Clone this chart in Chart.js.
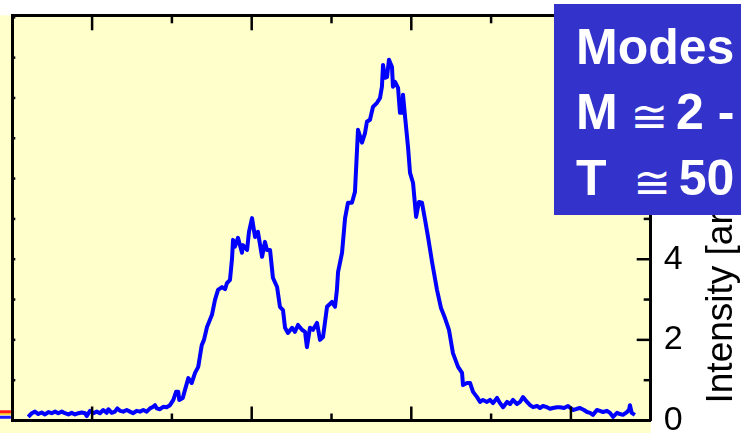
<!DOCTYPE html>
<html>
<head>
<meta charset="utf-8">
<script src="https://cdn.jsdelivr.net/npm/chart.js@4/dist/chart.umd.min.js"></script>
<style>
  html, body { margin: 0; padding: 0; background: #fff; overflow: hidden; width: 741px; height: 433px; }
  #wrap { position: relative; width: 741px; height: 433px; overflow: hidden; }
  #c { position: absolute; left: 0; top: 0; }
  #modes {
    position: absolute; left: 554px; top: 4px; width: 187px; height: 211px;
    box-sizing: border-box; padding: 11px 0 0 22px;
    background: #3333cc; color: #fff; white-space: pre;
    font: bold 50px "Liberation Sans", Arial, sans-serif; line-height: 65px;
  }
  #modes .approx {
    display: inline-block; width: 30.6px; overflow: visible;
    font: normal 45px "DejaVu Sans", sans-serif; line-height: 65px;
    position: relative; top: 3px; left: -1px;
  }
</style>
</head>
<body>
<div id="wrap">
  <canvas id="c" width="741" height="433"></canvas>
  <div id="modes">Modes
M <span class="approx">≅</span> 2 -
T  <span class="approx">≅</span> 50</div>
</div>
<script>
// Measured spectrum: position (x) and intensity [arb. units]
const positions = [
  -4.00, -3.78, -3.58, -3.37, -3.16, -2.95, -2.74, -2.53, -2.32, -2.12,
  -1.90, -1.70, -1.49, -1.28, -1.07, -0.86, -0.65, -0.44, -0.34, -0.13,
   0.08,  0.29,  0.49,  0.70,  0.91,  1.02,  1.23,  1.43,  1.58,  1.75,
   1.95,  2.17,  2.37,  2.58,  2.79,  3.00,  3.21,  3.42,  3.63,  3.83,
   3.94,  4.05,  4.25,  4.46,  4.67,  4.88,  5.09,  5.26,  5.40,  5.46,
   5.68,  5.82,  6.03,  6.24,  6.45,  6.65,  6.76,  6.87,  7.01,  7.20,
   7.51,  7.70,  7.89,  8.14,  8.33,  8.45,  8.64,  8.77,  8.83,  8.95,
   9.14,  9.39,  9.45,  9.71,  9.83, 10.02, 10.21, 10.39, 10.65, 10.83,
  10.96, 11.15, 11.33, 11.59, 11.77, 11.96, 12.09, 12.27, 12.53, 12.71,
  12.90, 13.15, 13.34, 13.46, 13.65, 13.84, 14.09, 14.28, 14.47, 14.72,
  15.03, 15.22, 15.34, 15.41, 15.66, 15.85, 16.03, 16.28, 16.47, 16.66,
  16.91, 17.10, 17.22, 17.41, 17.60, 17.85, 18.04, 18.16, 18.23, 18.35,
  18.48, 18.60, 18.79, 18.85, 18.98, 19.17, 19.29, 19.42, 19.48, 19.61,
  19.80, 19.92, 20.11, 20.30, 20.48, 20.67, 20.86, 21.05, 21.30, 21.61,
  21.86, 22.11, 22.36, 22.61, 22.93, 23.18, 23.24, 23.49, 23.68, 23.87,
  24.12, 24.31, 24.49, 24.74, 24.93, 25.12, 25.37, 25.56, 25.75, 26.00,
  26.19, 26.37, 26.62, 26.81, 27.00, 27.25, 27.44, 27.63, 27.88, 28.06,
  28.25, 28.50, 28.69, 28.88, 29.13, 29.32, 29.57, 29.82, 30.13, 30.38,
  30.57, 30.82, 31.01, 31.20, 31.38, 31.63, 31.82, 32.01, 32.26, 32.45,
  32.64, 32.89, 33.08, 33.26, 33.51, 33.64, 33.70, 33.81, 34.01
];
const intensity = [
  0.09, 0.18, 0.22, 0.16, 0.20, 0.15, 0.21, 0.18, 0.22, 0.18,
  0.22, 0.18, 0.15, 0.19, 0.15, 0.18, 0.20, 0.18, 0.11, 0.24,
  0.18, 0.22, 0.18, 0.26, 0.19, 0.28, 0.19, 0.22, 0.30, 0.24,
  0.22, 0.26, 0.22, 0.18, 0.24, 0.22, 0.26, 0.22, 0.30, 0.34,
  0.38, 0.30, 0.28, 0.34, 0.33, 0.38, 0.51, 0.71, 0.71, 0.51,
  0.56, 0.76, 1.05, 0.93, 1.18, 1.33, 1.60, 1.87, 2.00, 2.32,
  2.62, 2.99, 3.24, 3.31, 3.26, 3.41, 3.49, 4.03, 4.48, 4.31,
  4.53, 4.16, 4.35, 4.23, 4.68, 5.02, 4.55, 4.68, 4.06, 4.43,
  4.23, 4.23, 3.54, 3.31, 2.82, 2.74, 2.30, 2.17, 2.30, 2.20,
  2.37, 2.25, 2.20, 1.82, 2.30, 2.25, 2.42, 2.00, 2.07, 2.82,
  2.94, 2.82, 3.24, 3.68, 4.16, 5.02, 5.40, 5.40, 5.67, 7.21,
  6.89, 7.13, 7.41, 7.46, 7.78, 7.88, 8.00, 8.28, 8.82, 8.50,
  8.52, 8.95, 8.77, 8.28, 8.40, 8.25, 7.63, 7.63, 8.08, 7.53,
  6.76, 6.14, 5.89, 5.05, 5.42, 5.40, 4.98, 4.55, 3.93, 3.24,
  2.79, 2.54, 2.25, 1.67, 1.33, 1.18, 0.88, 0.93, 0.93, 0.71,
  0.58, 0.46, 0.51, 0.46, 0.51, 0.43, 0.56, 0.43, 0.33, 0.46,
  0.41, 0.51, 0.41, 0.46, 0.58, 0.46, 0.38, 0.33, 0.36, 0.31,
  0.36, 0.33, 0.29, 0.31, 0.33, 0.33, 0.31, 0.36, 0.26, 0.29,
  0.31, 0.26, 0.21, 0.19, 0.14, 0.26, 0.24, 0.21, 0.24, 0.19,
  0.09, 0.19, 0.16, 0.14, 0.21, 0.26, 0.38, 0.19, 0.14
];

// Ends of the traces of the neighbouring panel, just left of the frame
const neighbourX = [-5.77, -5.09];
const neighbourRed = [0.22, 0.22];
const neighbourGold = [0.16, 0.16];
const neighbourBlue = [0.08, 0.08];

// Axis ranges and labelled ticks
const xRange = [-5, 35];
const yRange = [0, 10.05];
const yTickLabels = [0, 2, 4, 6, 8, 10];
const yTitle = 'Intensity [arb. units]';

const toPoints = (xs, ys) => xs.map((x, i) => ({ x, y: ys[i] }));
const FONT = '"Liberation Sans", Arial, sans-serif';

const panelPlugin = {
  id: 'panel',
  beforeDraw(chart) {
    const { ctx, chartArea: a, width, height } = chart;
    ctx.save();
    ctx.fillStyle = '#ffffff';
    ctx.fillRect(0, 0, width, height);
    ctx.fillStyle = '#ffffcc';
    ctx.fillRect(0, a.top, a.right, height - a.top);
    ctx.restore();
  },
  afterDraw(chart) {
    const { ctx, chartArea: a, width } = chart;
    ctx.save();
    ctx.strokeStyle = '#000';
    ctx.lineWidth = 2.5;
    // inward-pointing tick marks on all four sides
    const inward = (scale, majorLen, minorLen, isMajor) => {
      scale.ticks.forEach(t => {
        if (t.value <= scale.min || t.value >= scale.max) return;
        const len = isMajor(t.value) ? majorLen : minorLen;
        const p = scale.getPixelForValue(t.value);
        ctx.beginPath();
        if (scale.position === 'bottom') { ctx.moveTo(p, a.bottom); ctx.lineTo(p, a.bottom - len); }
        else if (scale.position === 'top') { ctx.moveTo(p, a.top); ctx.lineTo(p, a.top + len); }
        else if (scale.position === 'right') { ctx.moveTo(a.right, p); ctx.lineTo(a.right - len, p); }
        else { ctx.moveTo(a.left, p); ctx.lineTo(a.left + len, p); }
        ctx.stroke();
      });
    };
    const xMajor = v => v % 10 === 0;
    const yMajor = v => yTickLabels.includes(v);
    inward(chart.scales.x, 14, 7, xMajor);
    inward(chart.scales.xTop, 15, 8, xMajor);
    inward(chart.scales.y, 14, 7, yMajor);
    inward(chart.scales.yLeft, 3, 3, () => true);

    // rotated axis title, reading bottom to top
    ctx.fillStyle = '#000';
    ctx.font = '37px ' + FONT;
    ctx.textAlign = 'left';
    ctx.textBaseline = 'alphabetic';
    ctx.translate(width - 9.3, a.bottom - 17);
    ctx.rotate(-Math.PI / 2);
    ctx.fillText(yTitle, 0, 0);
    ctx.restore();
  }
};

const frame = { display: true, width: 3, color: '#000' };
const noGrid = { display: false, drawTicks: false };

new Chart(document.getElementById('c'), {
  type: 'line',
  data: {
    datasets: [
      { data: toPoints(positions, intensity), borderColor: '#0000ff', borderWidth: 4,
        pointRadius: 0, tension: 0, borderJoinStyle: 'round' },
      { data: toPoints(neighbourX, neighbourRed), borderColor: '#ff1a1a', borderWidth: 3,
        pointRadius: 0, clip: { left: 14, top: 0, right: 0, bottom: 0 } },
      { data: toPoints(neighbourX, neighbourGold), borderColor: '#ffcc00', borderWidth: 1.5,
        pointRadius: 0, clip: { left: 14, top: 0, right: 0, bottom: 0 } },
      { data: toPoints(neighbourX, neighbourBlue), borderColor: '#1a1aff', borderWidth: 3,
        pointRadius: 0, clip: { left: 14, top: 0, right: 0, bottom: 0 } }
    ]
  },
  options: {
    responsive: false,
    animation: false,
    devicePixelRatio: 1,
    layout: { padding: { left: 12.3, top: 15.3, right: 0, bottom: 12.5 } },
    plugins: { legend: { display: false }, tooltip: { enabled: false } },
    scales: {
      x: {
        type: 'linear', position: 'bottom', min: xRange[0], max: xRange[1], z: 1,
        ticks: { display: false, stepSize: 5, autoSkip: false },
        grid: noGrid, border: frame
      },
      xTop: {
        type: 'linear', position: 'top', min: xRange[0], max: xRange[1], z: 1,
        ticks: { display: false, stepSize: 5, autoSkip: false },
        grid: noGrid, border: frame
      },
      y: {
        type: 'linear', position: 'right', min: yRange[0], max: yRange[1], z: 1,
        ticks: {
          stepSize: 1, autoSkip: false, includeBounds: false, padding: 13, color: '#000',
          font: { family: FONT, size: 34 },
          callback: v => (yTickLabels.includes(v) ? String(v) : '')
        },
        grid: noGrid, border: frame,
        afterFit: s => { s.width = 90.3; s.paddingTop = 0; s.paddingBottom = 0; }
      },
      yLeft: {
        type: 'linear', position: 'left', min: yRange[0], max: yRange[1], z: 1,
        ticks: { display: false, stepSize: 1, autoSkip: false, includeBounds: false },
        grid: noGrid, border: frame
      }
    }
  },
  plugins: [panelPlugin]
});
</script>
</body>
</html>
